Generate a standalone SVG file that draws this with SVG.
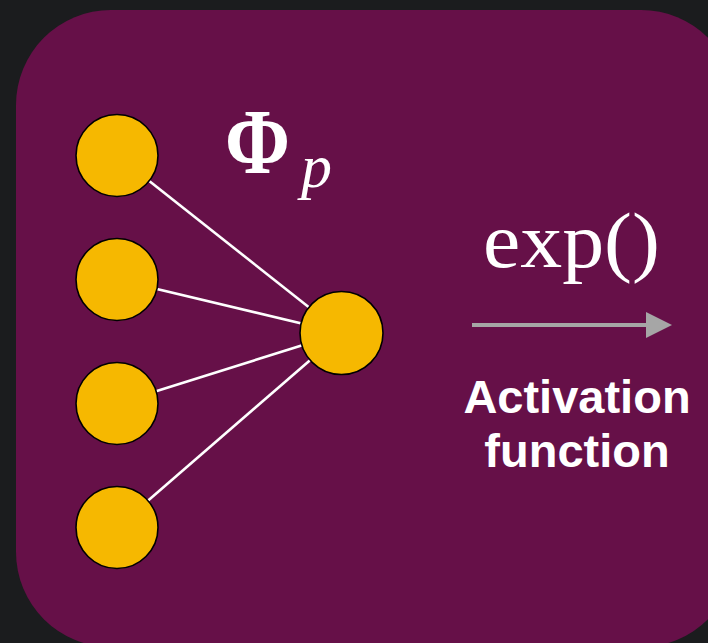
<svg xmlns="http://www.w3.org/2000/svg" width="708" height="643" viewBox="0 0 708 643">
<style>
.node{fill:#f6b800;stroke:#000;stroke-width:1.6}
.edge{stroke:#fff;stroke-width:2.6}
.math{font-family:"Liberation Serif","DejaVu Serif",serif;fill:#fff}
.lbl{font-family:"Liberation Sans",Arial,sans-serif;font-weight:bold;fill:#fff;font-size:47px;text-anchor:middle}
</style>
<defs>
<marker id="ah" viewBox="0 0 10 10" refX="0" refY="5" markerWidth="6.5" markerHeight="6.5" markerUnits="strokeWidth" orient="auto">
<path d="M0,0 L10,5 L0,10 Z" fill="#a6a6a6"/>
</marker>
</defs>
<rect width="708" height="643" fill="#1b1c1e"/>
<rect x="16" y="10" width="720" height="637" rx="95" ry="95" fill="#661048"/>
<g id="connectors">
<line class="edge" x1="117" y1="155.5" x2="341.5" y2="333"/>
<line class="edge" x1="117" y1="279.5" x2="341.5" y2="333"/>
<line class="edge" x1="117" y1="403.5" x2="341.5" y2="333"/>
<line class="edge" x1="117" y1="527.5" x2="341.5" y2="333"/>
<line x1="472" y1="325" x2="646" y2="325" stroke="#a6a6a6" stroke-width="4" marker-end="url(#ah)"/>
</g>
<g id="in1"><circle class="node" cx="117" cy="155.5" r="41"/></g>
<g id="in2"><circle class="node" cx="117" cy="279.5" r="41"/></g>
<g id="in3"><circle class="node" cx="117" cy="403.5" r="41"/></g>
<g id="in4"><circle class="node" cx="117" cy="527.5" r="41"/></g>
<g id="out"><circle class="node" cx="341.5" cy="333" r="41.5"/></g>
<g id="phi">
<text class="math" x="225" y="173" font-size="94" font-weight="bold" textLength="65" lengthAdjust="spacingAndGlyphs">Φ</text>
<text class="math" x="301" y="187" font-size="62" font-style="italic">p</text>
</g>
<g id="exp">
<text class="math" x="483" y="267" font-size="78" textLength="177" lengthAdjust="spacingAndGlyphs">exp()</text>
</g>
<g id="activation">
<text class="lbl" x="577" y="413">Activation</text>
<text class="lbl" x="577" y="467">function</text>
</g>
</svg>
